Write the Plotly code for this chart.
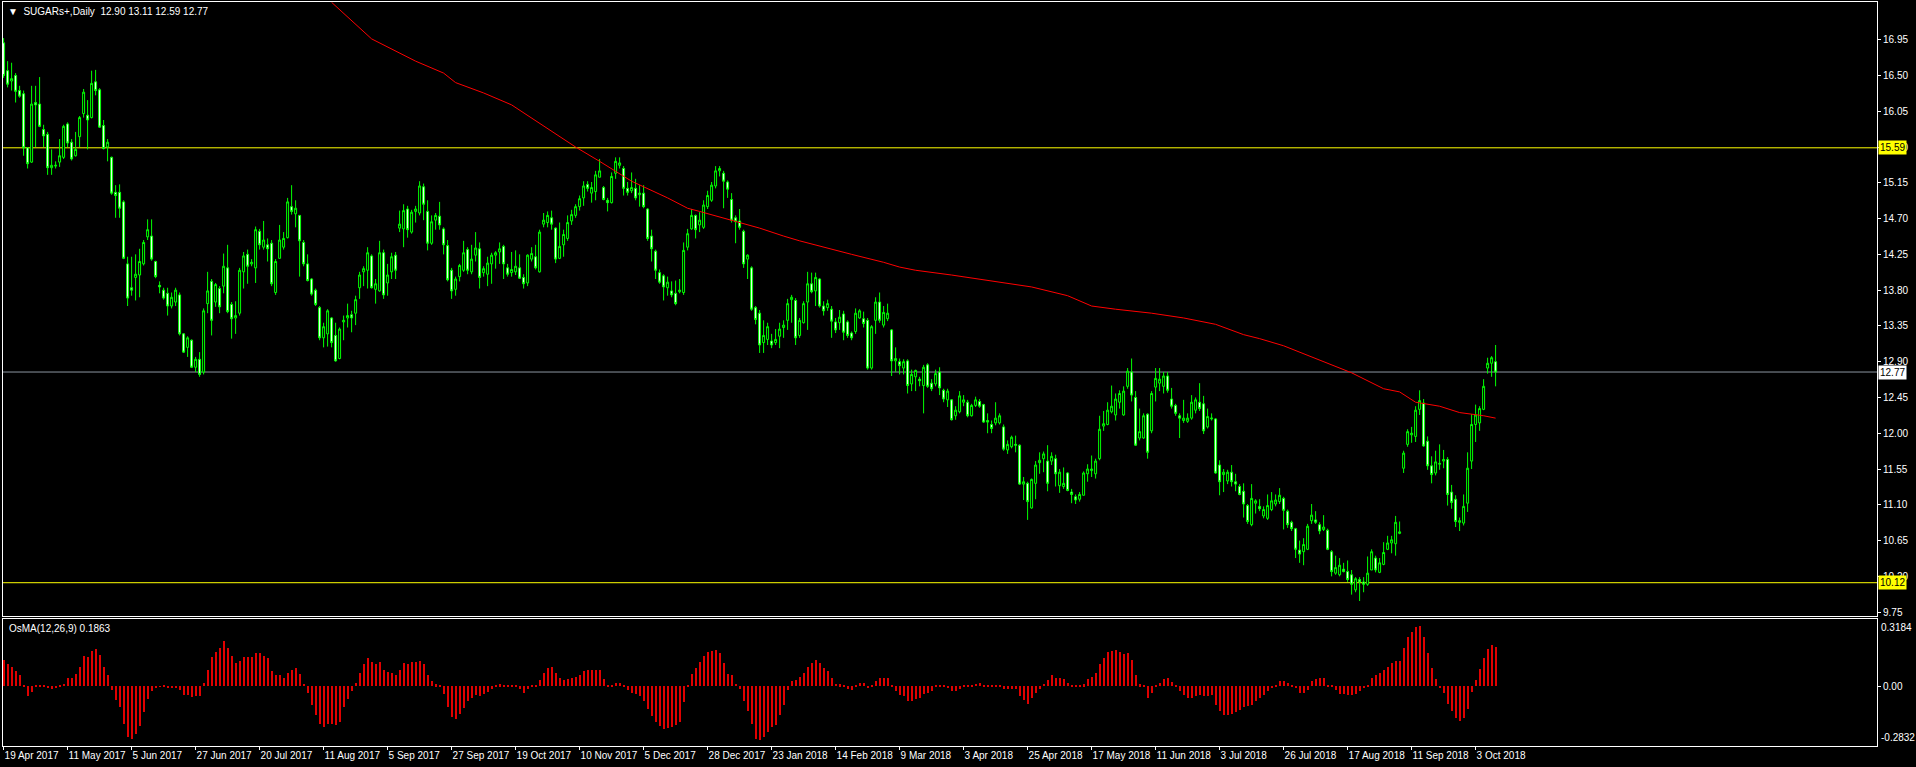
import plotly.graph_objects as go

# ---------------- DATA ----------------
open_ = [
16.91,16.56,16.43,16.50,16.31,16.27,15.59,15.41,16.16,16.14,15.82,15.76,15.34,15.36,15.41,15.47,15.89,15.66,15.49,15.73,
16.02,16.00,15.97,16.42,16.32,15.87,15.60,15.47,15.03,15.03,14.91,14.13,13.83,13.96,13.99,14.13,14.47,14.48,14.16,13.86,
13.80,13.76,13.60,13.65,13.74,13.25,13.08,13.17,12.83,12.93,12.77,13.63,13.91,13.65,13.82,13.85,14.08,13.62,13.45,13.51,
14.03,14.25,14.13,14.08,14.54,14.34,14.37,14.39,13.77,14.20,14.34,14.46,14.85,14.76,14.74,14.40,14.13,13.94,13.80,13.58,
13.20,13.25,13.45,13.23,12.94,13.40,13.45,13.49,13.51,13.83,14.03,14.05,14.23,13.81,13.79,14.27,13.89,14.03,14.24,14.58,
14.57,14.82,14.53,14.79,14.77,15.10,14.79,14.39,14.68,14.73,14.57,14.36,14.05,13.81,13.97,14.05,14.31,14.03,14.24,14.32,
14.02,14.00,14.13,14.24,14.28,14.35,14.08,14.02,14.03,14.08,13.96,13.89,14.19,14.22,14.03,14.63,14.65,14.71,14.58,14.20,
14.37,14.45,14.67,14.74,14.85,14.96,15.13,15.02,15.04,15.22,15.09,14.93,14.90,15.27,15.37,15.33,15.08,15.05,15.08,15.00,
15.02,14.82,14.48,14.29,14.02,13.98,13.83,13.79,13.76,13.78,13.77,14.34,14.57,14.74,14.62,14.59,14.85,14.93,15.11,15.30,
15.27,15.16,14.94,14.71,14.67,14.54,14.19,14.08,13.58,13.51,13.14,13.18,13.16,13.14,13.22,13.33,13.42,13.68,13.67,13.23,
13.39,13.65,13.88,13.79,13.94,13.60,13.58,13.56,13.40,13.39,13.50,13.40,13.26,13.28,13.45,13.44,13.42,12.82,13.42,13.65,
13.36,13.44,13.30,12.91,12.90,12.82,12.91,12.62,12.71,12.68,12.60,12.86,12.63,12.62,12.77,12.54,12.42,12.42,12.22,12.27,
12.39,12.39,12.22,12.35,12.40,12.36,12.16,12.11,12.13,12.13,12.08,11.79,11.83,11.86,11.85,11.36,11.37,11.06,11.37,11.63,
11.68,11.65,11.65,11.68,11.34,11.33,11.50,11.26,11.20,11.17,11.22,11.49,11.53,11.49,11.68,12.09,12.11,12.27,12.23,12.39,
12.23,12.59,12.77,12.45,11.94,11.94,12.24,12.03,12.58,12.63,12.59,12.72,12.43,12.35,12.22,12.16,12.15,12.19,12.29,12.39,
12.37,12.08,12.18,12.18,11.60,11.48,11.40,11.51,11.39,11.33,11.27,11.09,10.85,11.12,11.08,10.96,10.93,11.04,11.11,11.14,
11.18,11.02,10.88,10.80,10.53,10.51,10.54,10.90,10.91,10.85,10.79,10.78,10.51,10.24,10.22,10.29,10.26,10.22,10.03,10.16,
10.13,10.10,10.28,10.43,10.25,10.35,10.54,10.62,10.61,10.74,11.56,11.86,11.98,11.96,12.30,12.38,11.90,11.59,11.50,11.61,
11.65,11.67,11.26,11.17,10.88,10.87,11.12,11.65,12.11,12.13,12.30,12.82,12.88,12.90]

high_ = [
16.97,16.68,16.66,16.53,16.37,16.31,15.60,16.37,16.37,16.48,15.88,15.79,15.57,15.42,15.70,15.88,15.91,15.70,15.79,15.99,
16.33,16.19,16.56,16.57,16.34,15.94,15.70,15.48,15.12,15.13,14.93,14.22,14.22,14.25,14.32,14.43,14.69,14.69,14.17,13.91,
13.83,13.83,13.77,13.83,13.77,13.26,13.22,13.18,12.96,13.02,13.57,14.03,13.94,13.89,13.85,14.26,14.37,13.65,13.66,14.08,
14.28,14.31,14.19,14.60,14.57,14.67,14.45,14.43,14.19,14.62,14.53,14.96,15.12,14.93,14.74,14.43,14.25,13.95,13.82,13.60,
13.39,13.56,13.46,13.39,13.33,13.48,13.63,13.54,13.73,14.03,14.10,14.34,14.25,13.94,14.42,14.31,14.13,14.27,14.28,14.80,
14.88,14.86,14.81,14.86,15.17,15.14,14.93,14.74,14.77,14.91,14.59,14.43,14.08,13.97,14.13,14.42,14.34,14.37,14.53,14.40,
14.10,14.22,14.27,14.29,14.40,14.37,14.13,14.28,14.30,14.25,14.00,14.25,14.34,14.37,14.56,14.77,14.79,14.80,14.59,14.65,
14.56,14.74,14.81,14.88,14.99,15.17,15.17,15.16,15.30,15.45,15.11,14.96,15.28,15.47,15.47,15.36,15.16,15.28,15.20,15.12,
15.12,14.83,14.56,14.31,14.06,14.00,13.97,13.91,13.92,13.94,14.40,14.57,14.82,14.75,14.78,14.93,15.05,15.16,15.36,15.36,
15.30,15.18,15.02,14.74,14.82,14.56,14.25,14.10,13.60,13.55,13.42,13.39,13.25,13.31,13.39,13.42,13.69,13.74,13.70,13.45,
13.66,14.03,14.02,14.02,13.95,13.66,13.68,13.60,13.45,13.55,13.54,13.42,13.28,13.57,13.56,13.53,13.45,13.36,13.71,13.77,
13.60,13.63,13.31,13.08,12.94,12.93,12.93,12.80,12.80,12.71,12.86,12.88,12.68,12.80,12.83,12.56,12.56,12.43,12.34,12.53,
12.48,12.42,12.37,12.46,12.43,12.37,12.25,12.16,12.39,12.25,12.11,11.91,11.97,11.97,11.86,11.45,11.39,11.43,11.65,11.76,
11.77,11.85,11.76,11.73,11.55,11.57,11.51,11.30,11.23,11.26,11.52,11.61,11.72,11.68,12.22,12.28,12.39,12.60,12.50,12.54,
12.59,12.82,12.94,12.53,12.31,12.25,12.25,12.53,12.82,12.82,12.77,12.77,12.57,12.37,12.25,12.42,12.25,12.48,12.45,12.63,
12.47,12.31,12.25,12.19,11.66,11.55,11.54,11.60,11.49,11.36,11.37,11.11,11.36,11.17,11.17,11.08,11.23,11.26,11.23,11.31,
11.20,11.04,10.90,10.81,10.65,10.68,10.86,11.11,11.02,10.88,10.97,10.80,10.53,10.46,10.43,10.37,10.40,10.28,10.19,10.19,
10.19,10.45,10.54,10.46,10.43,10.63,10.71,10.71,10.96,10.89,11.78,12.05,12.08,12.34,12.54,12.43,11.96,11.71,11.78,11.86,
11.79,11.70,11.35,11.22,10.94,11.23,11.76,12.24,12.36,12.34,12.68,12.95,12.97,13.11]

low_ = [
16.47,16.35,16.31,16.16,16.22,15.49,15.33,15.40,15.60,15.85,15.60,15.25,15.25,15.33,15.35,15.45,15.60,15.43,15.48,15.60,
15.97,15.57,15.96,16.25,15.84,15.57,15.42,15.00,14.71,14.71,14.19,13.60,13.73,13.67,13.71,14.11,14.43,14.17,13.95,13.76,
13.68,13.48,13.57,13.60,13.23,13.01,12.96,12.82,12.77,12.71,12.74,13.51,13.23,13.59,13.51,13.76,13.51,13.19,13.25,13.48,
13.82,13.88,14.10,13.89,14.31,14.31,14.16,13.85,13.74,14.20,14.31,14.45,14.75,14.59,13.97,14.10,13.91,13.73,13.60,13.17,
13.08,13.09,13.08,12.90,12.93,13.17,13.33,13.27,13.36,13.69,13.85,13.82,13.82,13.63,13.78,13.69,13.73,13.94,13.94,14.53,
14.34,14.46,14.51,14.65,14.74,14.68,14.30,14.37,14.56,14.56,14.25,13.91,13.69,13.73,13.91,14.03,14.00,14.00,14.16,13.82,
13.97,13.85,13.88,14.07,14.13,13.94,13.97,13.97,13.99,13.94,13.82,13.85,14.16,14.06,14.02,14.59,14.59,14.56,14.14,14.19,
14.22,14.42,14.62,14.71,14.80,14.86,15.04,14.90,14.93,15.22,14.93,14.79,14.89,15.20,15.33,14.99,14.99,15.02,14.93,14.85,
14.83,14.42,14.16,13.94,13.88,13.67,13.73,13.71,13.61,13.76,13.74,14.30,14.56,14.45,14.53,14.57,14.82,14.91,15.08,15.23,
14.83,14.96,14.65,14.39,14.56,14.08,13.94,13.54,13.37,13.01,13.01,13.11,13.07,13.11,13.07,13.20,13.30,13.39,13.11,13.20,
13.38,13.30,13.76,13.60,13.58,13.48,13.54,13.20,13.26,13.30,13.17,13.20,13.17,13.25,13.44,13.33,12.80,12.80,13.25,13.39,
13.33,13.41,12.72,12.77,12.74,12.74,12.50,12.53,12.53,12.59,12.25,12.57,12.53,12.59,12.48,12.39,12.33,12.16,12.17,12.25,
12.34,12.20,12.21,12.33,12.32,12.13,12.00,12.00,12.10,12.11,11.78,11.74,11.81,11.76,11.35,11.16,10.91,11.05,11.17,11.49,
11.51,11.27,11.60,11.33,11.25,11.30,11.27,11.12,11.11,11.14,11.22,11.39,11.45,11.43,11.66,12.03,12.10,12.25,12.16,12.31,
12.22,12.56,12.40,11.84,11.91,11.93,11.68,12.00,12.40,12.53,12.50,12.51,12.31,12.22,11.94,12.13,12.13,12.17,12.25,12.28,
11.99,12.06,12.16,11.49,11.22,11.26,11.36,11.33,11.27,11.22,10.94,10.86,10.83,10.99,11.02,10.93,10.91,11.02,11.08,11.11,
10.79,10.81,10.77,10.43,10.37,10.34,10.53,10.86,10.86,10.73,10.77,10.53,10.20,10.22,10.20,10.25,10.13,9.97,10.00,9.89,
10.00,10.08,10.28,10.25,10.24,10.34,10.53,10.49,10.46,10.73,11.50,11.83,11.88,11.89,12.23,11.83,11.54,11.37,11.47,11.54,
11.56,11.09,11.05,10.82,10.77,10.84,11.01,11.55,11.89,12.03,12.29,12.75,12.71,12.59]

close_ = [
16.50,16.39,16.46,16.30,16.24,15.59,15.39,16.14,16.13,15.86,15.74,15.34,15.37,15.37,15.49,15.86,15.65,15.45,15.57,15.97,
16.29,15.94,16.40,16.31,15.85,15.58,15.66,15.02,14.99,14.83,14.20,13.70,13.80,14.00,14.16,14.40,14.56,14.19,13.97,13.84,
13.70,13.60,13.71,13.80,13.25,13.02,13.20,12.83,12.93,12.74,13.54,13.79,13.42,13.87,13.59,14.10,13.53,13.44,13.48,14.05,
14.23,14.10,14.15,14.56,14.37,14.43,14.32,13.88,14.16,14.43,14.45,14.91,14.79,14.83,14.42,14.13,13.92,13.75,13.62,13.20,
13.34,13.54,13.14,12.91,13.31,13.42,13.48,13.45,13.68,13.99,14.07,14.27,13.83,13.88,14.27,13.74,13.99,14.22,14.05,14.63,
14.80,14.56,14.78,14.82,15.11,14.88,14.39,14.66,14.74,14.62,14.37,13.93,13.79,13.94,14.11,14.27,14.05,14.19,14.33,13.96,
14.07,14.14,14.24,14.27,14.32,14.13,14.00,14.06,14.10,13.95,13.88,14.24,14.26,14.08,14.53,14.68,14.74,14.63,14.19,14.35,
14.50,14.65,14.75,14.85,14.95,15.11,15.08,15.09,15.25,15.30,14.94,14.90,15.23,15.42,15.40,15.08,15.03,15.09,14.96,15.02,
14.85,14.45,14.32,14.05,13.90,13.84,13.90,13.74,13.63,13.80,14.30,14.51,14.74,14.56,14.68,14.87,14.99,15.12,15.30,15.33,
15.17,15.07,14.68,14.66,14.59,14.13,14.24,13.56,13.43,13.11,13.23,13.34,13.11,13.18,13.31,13.36,13.63,13.71,13.20,13.42,
13.63,13.88,13.78,13.96,13.60,13.54,13.63,13.41,13.30,13.46,13.27,13.23,13.20,13.51,13.54,13.38,12.82,13.34,13.65,13.42,
13.52,13.51,12.91,12.94,12.85,12.90,12.60,12.74,12.79,12.66,12.83,12.59,12.56,12.75,12.57,12.43,12.53,12.17,12.29,12.47,
12.42,12.22,12.35,12.42,12.34,12.14,12.14,12.06,12.19,12.22,11.80,11.86,11.95,11.85,11.36,11.39,11.14,11.42,11.60,11.66,
11.74,11.37,11.71,11.49,11.51,11.37,11.28,11.23,11.16,11.23,11.50,11.55,11.55,11.65,12.05,12.12,12.29,12.34,12.43,12.50,
12.53,12.78,12.48,11.85,12.02,12.22,11.76,12.50,12.69,12.68,12.72,12.54,12.34,12.25,12.19,12.19,12.19,12.39,12.42,12.31,
12.03,12.21,12.19,11.50,11.39,11.51,11.51,11.39,11.36,11.23,11.11,10.89,11.18,11.15,11.05,11.04,11.09,11.15,11.16,11.22,
11.03,10.85,10.80,10.54,10.48,10.60,10.83,10.97,10.88,10.77,10.82,10.54,10.26,10.31,10.34,10.26,10.16,10.10,10.17,10.13,
10.10,10.24,10.51,10.28,10.37,10.50,10.62,10.66,10.88,10.76,11.75,12.02,12.00,12.29,12.41,11.84,11.59,11.48,11.64,11.62,
11.67,11.23,11.13,10.89,10.90,11.08,11.56,12.11,12.23,12.31,12.59,12.88,12.95,12.77]

osma = [
0.126,0.103,0.093,0.070,0.051,0.005,-0.047,-0.028,0.005,0.005,0.005,-0.005,-0.012,-0.010,0.005,0.010,0.040,0.040,0.056,0.093,
0.145,0.140,0.168,0.177,0.149,0.089,0.051,-0.019,-0.065,-0.100,-0.177,-0.240,-0.252,-0.228,-0.189,-0.124,-0.061,-0.023,-0.005,-0.002,
0.002,-0.007,-0.007,-0.007,-0.019,-0.042,-0.042,-0.049,-0.047,-0.047,0.014,0.075,0.140,0.163,0.179,0.214,0.179,0.145,0.110,0.121,
0.138,0.138,0.138,0.156,0.156,0.145,0.133,0.070,0.051,0.051,0.040,0.063,0.079,0.086,0.056,0.012,-0.030,-0.089,-0.135,-0.177,
-0.193,-0.177,-0.177,-0.182,-0.170,-0.100,-0.061,-0.023,0.014,0.061,0.103,0.133,0.117,0.107,0.114,0.079,0.068,0.063,0.051,0.075,
0.110,0.105,0.114,0.114,0.121,0.107,0.051,0.023,0.009,0.002,-0.037,-0.100,-0.147,-0.154,-0.131,-0.105,-0.070,-0.054,-0.042,-0.047,
-0.037,-0.028,-0.014,0.005,0.009,0.003,0.002,0.002,0.002,-0.014,-0.030,-0.014,0.002,0.003,0.028,0.061,0.084,0.091,0.061,0.040,
0.028,0.033,0.040,0.044,0.051,0.070,0.075,0.075,0.075,0.075,0.035,0.005,0.005,0.016,0.016,0.002,-0.019,-0.030,-0.037,-0.047,
-0.072,-0.107,-0.140,-0.170,-0.189,-0.205,-0.200,-0.193,-0.186,-0.170,-0.077,0.002,0.056,0.086,0.117,0.145,0.161,0.168,0.172,0.156,
0.110,0.058,0.051,0.012,-0.014,-0.070,-0.117,-0.180,-0.252,-0.256,-0.240,-0.217,-0.193,-0.182,-0.135,-0.089,-0.019,0.023,0.028,0.044,
0.063,0.093,0.110,0.126,0.110,0.086,0.070,0.040,0.012,0.009,0.002,-0.014,-0.019,0.002,0.014,0.014,-0.007,0.005,0.023,0.040,
0.040,0.040,0.002,-0.023,-0.042,-0.047,-0.070,-0.070,-0.061,-0.054,-0.037,-0.033,-0.023,0.002,0.002,0.002,-0.007,-0.023,-0.023,-0.014,
0.002,0.002,0.005,0.012,0.014,0.005,0.002,0.002,0.002,0.002,-0.014,-0.014,-0.014,-0.014,-0.047,-0.065,-0.082,-0.054,-0.030,-0.014,
0.012,0.028,0.051,0.040,0.037,0.033,0.016,0.005,0.002,0.002,0.009,0.033,0.044,0.063,0.105,0.133,0.161,0.168,0.172,0.163,
0.152,0.156,0.126,0.051,0.009,0.002,-0.054,-0.030,0.002,0.016,0.033,0.040,0.021,0.002,-0.023,-0.042,-0.054,-0.054,-0.047,-0.042,
-0.047,-0.047,-0.042,-0.089,-0.117,-0.135,-0.135,-0.131,-0.124,-0.112,-0.100,-0.095,-0.089,-0.070,-0.054,-0.042,-0.023,-0.007,0.002,0.023,
0.023,0.014,0.005,-0.007,-0.030,-0.030,-0.019,0.023,0.033,0.040,0.040,0.005,0.002,-0.019,-0.037,-0.037,-0.042,-0.042,-0.037,-0.023,
-0.007,0.005,0.040,0.051,0.063,0.079,0.093,0.110,0.121,0.121,0.180,0.233,0.256,0.280,0.286,0.233,0.157,0.085,0.034,-0.005,
-0.030,-0.086,-0.118,-0.151,-0.165,-0.151,-0.110,-0.027,0.029,0.081,0.132,0.175,0.195,0.1863]

# moving average (read at sampled bars)
ma_bar = [82, 92, 103, 110, 113, 120, 127, 143, 149, 157, 166, 171, 174, 182, 189, 195, 199, 212, 220, 224, 228,
          237, 245, 252, 257, 266, 272, 278, 287, 295, 303, 310, 314, 320, 328, 337, 345, 349, 353, 359, 364, 370, 373]
ma_val = [17.42, 16.96, 16.68, 16.53, 16.41, 16.28, 16.13, 15.60, 15.42, 15.17, 14.96, 14.83, 14.79, 14.68, 14.58,
          14.48, 14.42, 14.25, 14.15, 14.09, 14.05, 13.99, 13.93, 13.88, 13.84, 13.73, 13.60, 13.56, 13.51, 13.45,
          13.37, 13.24, 13.19, 13.10, 12.94, 12.76, 12.56, 12.52, 12.39, 12.34, 12.26, 12.22, 12.19]

date_labels = ["19 Apr 2017", "11 May 2017", "5 Jun 2017", "27 Jun 2017", "20 Jul 2017", "11 Aug 2017",
               "5 Sep 2017", "27 Sep 2017", "19 Oct 2017", "10 Nov 2017", "5 Dec 2017", "28 Dec 2017",
               "23 Jan 2018", "14 Feb 2018", "9 Mar 2018", "3 Apr 2018", "25 Apr 2018", "17 May 2018",
               "11 Jun 2018", "3 Jul 2018", "26 Jul 2018", "17 Aug 2018", "11 Sep 2018", "3 Oct 2018"]
date_label_bars = [16 * k for k in range(len(date_labels))]

price_ticks = [9.75, 10.20, 10.65, 11.10, 11.55, 12.00, 12.45, 12.90, 13.35, 13.80, 14.25, 14.70, 15.15,
               15.60, 16.05, 16.50, 16.95]
yellow_levels = [15.59, 10.12]
bid_level = 12.77
osma_max, osma_min = 0.3184, -0.2832
title_text = "SUGARs+,Daily  12.90 13.11 12.59 12.77"
osma_title = "OsMA(12,26,9) 0.1863"

# ---------------- FIGURE ----------------
bars = list(range(len(close_)))
FONT = "Liberation Sans"
W, H = 1916, 767

fig = go.Figure()
fig.add_trace(go.Candlestick(
    x=bars, open=open_, high=high_, low=low_, close=close_,
    increasing=dict(line=dict(color="#00FF00", width=1), fillcolor="#000000"),
    decreasing=dict(line=dict(color="#00FF00", width=1), fillcolor="#FFFFFF"),
    whiskerwidth=0, hoverinfo="skip", xaxis="x", yaxis="y"))
fig.add_trace(go.Scatter(x=ma_bar, y=ma_val, mode="lines", line=dict(color="#FF0000", width=1),
                         hoverinfo="skip", xaxis="x", yaxis="y"))
fig.add_trace(go.Bar(x=bars, y=osma, width=0.25, marker=dict(color="#E00000", line=dict(width=0)),
                     hoverinfo="skip", xaxis="x2", yaxis="y2"))

shapes = []
for lv in yellow_levels:
    shapes.append(dict(type="line", xref="x domain", x0=0, x1=1, yref="y", y0=lv, y1=lv,
                       line=dict(color="#FFFF00", width=1), layer="below"))
shapes.append(dict(type="line", xref="x domain", x0=0, x1=1, yref="y", y0=bid_level, y1=bid_level,
                   line=dict(color="#8C96A0", width=1), layer="below"))

annotations = [
    dict(text="\u25BC\u00a0\u00a0" + title_text.replace(" ", "\u00a0"), xref="paper", yref="paper", x=0, y=1,
         xanchor="left", yanchor="top", xshift=3, yshift=-2, showarrow=False,
         font=dict(color="white", size=10, family=FONT)),
    dict(text=osma_title, xref="paper", yref="paper", x=0, y=0.1707, xanchor="left", yanchor="top",
         xshift=4, yshift=-2, showarrow=False, font=dict(color="white", size=10, family=FONT)),
    dict(text=f"{osma_max:.4f}", xref="paper", yref="y2", x=1, y=osma_max, xanchor="left", yanchor="top",
         xshift=2, yshift=-1, showarrow=False, font=dict(color="white", size=10, family=FONT)),
    dict(text=f"{osma_min:.4f}", xref="paper", yref="y2", x=1, y=osma_min, xanchor="left", yanchor="bottom",
         xshift=2, yshift=1, showarrow=False, font=dict(color="white", size=10, family=FONT)),
]
for lv in yellow_levels:
    annotations.append(dict(text=f"{lv:.2f}", xref="paper", yref="y", x=1, y=lv, xanchor="left",
                            yanchor="middle", xshift=1, showarrow=False, bgcolor="#FFFF00", borderpad=1,
                            font=dict(color="black", size=10, family=FONT)))
annotations.append(dict(text=f"{bid_level:.2f}", xref="paper", yref="y", x=1, y=bid_level, xanchor="left",
                        yanchor="middle", xshift=1, showarrow=False, bgcolor="#FFFFFF", borderpad=1,
                        font=dict(color="black", size=10, family=FONT)))

xr = [-0.15, 468.35]
axis_common = dict(showgrid=False, zeroline=False, showline=True, linecolor="white", linewidth=1, mirror=True)

fig.update_layout(
    width=W, height=H, margin=dict(l=3, r=39, t=2, b=21),
    paper_bgcolor="black", plot_bgcolor="black", showlegend=False, bargap=0,
    xaxis=dict(domain=[0, 1], range=xr, anchor="y", showticklabels=False, ticks="",
               rangeslider=dict(visible=False), **axis_common),
    yaxis=dict(domain=[0.1747, 1], range=[9.701, 17.424], anchor="x", side="right",
               tickvals=price_ticks, ticktext=[f"{v:.2f}" for v in price_ticks],
               ticks="outside", ticklen=3, tickcolor="white",
               tickfont=dict(color="white", size=10, family=FONT), **axis_common),
    xaxis2=dict(domain=[0, 1], range=xr, anchor="y2", matches="x",
                tickvals=date_label_bars, ticktext=date_labels, ticks="outside", ticklen=3,
                tickcolor="white", ticklabelposition="outside right", tickangle=0,
                tickfont=dict(color="white", size=10, family=FONT), **axis_common),
    yaxis2=dict(domain=[0, 0.1707], range=[osma_min, osma_max], anchor="x2", side="right",
                tickvals=[0], ticktext=["0.00"], ticks="outside", ticklen=3, tickcolor="white",
                tickfont=dict(color="white", size=10, family=FONT), **axis_common),
    shapes=shapes, annotations=annotations,
)

fig.write_html("out.html", config={"displayModeBar": False},
               post_script="document.body.style.margin='0';document.body.style.overflow='hidden';")
